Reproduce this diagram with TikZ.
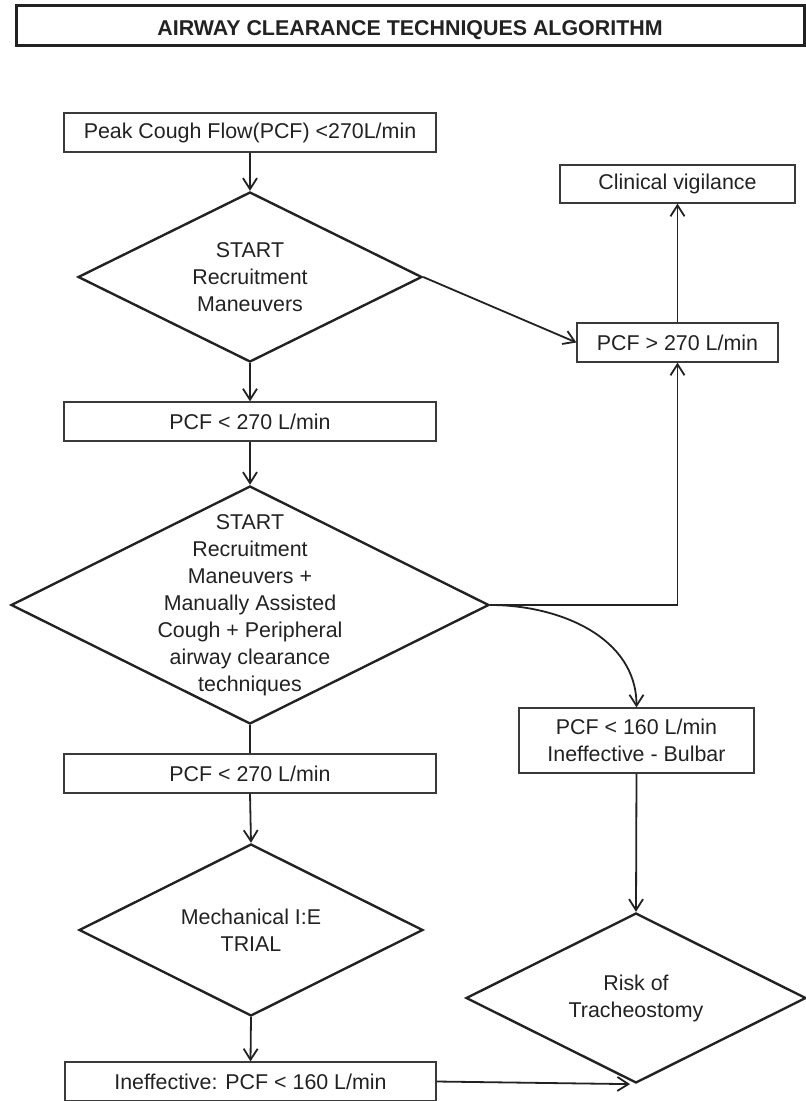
\documentclass[tikz,border=0pt]{standalone}
\usepackage{fontspec}
\setmainfont{Liberation Sans}
\usetikzlibrary{shapes.geometric,arrows.meta}
\definecolor{ink}{HTML}{222222}
\definecolor{boxline}{HTML}{3A3A3A}
\begin{document}
\begin{tikzpicture}[x=1pt,y=-1pt,
  font=\fontsize{21.4}{27}\selectfont, text=ink,
  box/.style={draw=boxline, line width=1.2pt, rectangle, inner sep=0pt},
  dia/.style={draw=ink, line width=2.4pt, diamond, inner sep=0pt},
  dtext/.style={align=center, inner sep=0pt},
  arr/.style={draw=ink, line width=1.8pt,
    -{Straight Barb[length=11pt,width=14pt,line width=1.8pt]}},
  link/.style={draw=ink, line width=1.8pt}]
\useasboundingbox (0,0) rectangle (806,1101);

% title banner
\node[draw=ink, line width=3pt, inner sep=0pt, minimum width=788pt,
  minimum height=40pt, text height=20.3pt, text depth=0pt,
  font=\fontsize{21.4}{27}\selectfont\bfseries]
  (title) at (410,25) {AIRWAY CLEARANCE TECHNIQUES ALGORITHM};

% left column
\node[box, minimum width=372pt, minimum height=39pt] (b1) at (250,132.5)
  {Peak Cough Flow(PCF) <270L/min};
\node[dia, minimum width=344pt, minimum height=170pt] (d1) at (250,277) {};
\node[dtext] (d1t) at (d1.center) {START\\Recruitment\\Maneuvers};
\node[box, minimum width=372pt, minimum height=39pt] (b2) at (250,421.5)
  {PCF < 270 L/min};
\node[dia, minimum width=478pt, minimum height=238pt] (d2) at (250,605) {};
\node[dtext] (d2t) at (d2.center) {START\\Recruitment\\Maneuvers +\\Manually Assisted\\Cough + Peripheral\\airway clearance\\techniques};
\node[box, minimum width=372pt, minimum height=39pt] (b3) at (250,773.5)
  {PCF < 270 L/min};
\node[dia, minimum width=344pt, minimum height=172pt] (d3) at (251,930) {};
\node[dtext] (d3t) at (d3.center) {Mechanical I:E\\TRIAL};
\node[box, minimum width=371pt, minimum height=39pt] (b4) at (250.5,1081.5)
  {Ineffective: PCF < 160 L/min};

% right column
\node[box, minimum width=235pt, minimum height=38pt] (clin) at (677.5,184)
  {Clinical vigilance};
\node[box, minimum width=201pt, minimum height=39pt] (bgt) at (677.5,342.5)
  {PCF > 270 L/min};
\node[box, minimum width=235pt, minimum height=65pt, align=center] (b5) at (636.5,740.5)
  {PCF < 160 L/min\\Ineffective - Bulbar};
\node[dia, minimum width=340pt, minimum height=170pt] (d4) at (636,998) {};
\node[dtext] (d4t) at (d4.center) {Risk of\\Tracheostomy};

% connectors
\draw[arr] (b1.south) -- (d1.north);
\draw[arr] (d1.east) -- (bgt.west);
\draw[arr] (bgt.north) -- (clin.south);
\draw[arr] (d1.south) -- (b2.north);
\draw[arr] (b2.south) -- (d2.north);
\draw[arr] (d2.east) -| (bgt.south);
\draw[arr] (d2.east) to[out=0,in=90] (b5.north);
\draw[link] (d2.south) -- (b3.north);
\draw[arr] (b3.south) -- (d3.north);
\draw[arr] (d3.south) -- (b4.north);
\draw[arr] (b5.south) -- (d4.north);
\draw[arr, shorten >=6pt] (b4.east) -- (d4.south);
\end{tikzpicture}
\end{document}
